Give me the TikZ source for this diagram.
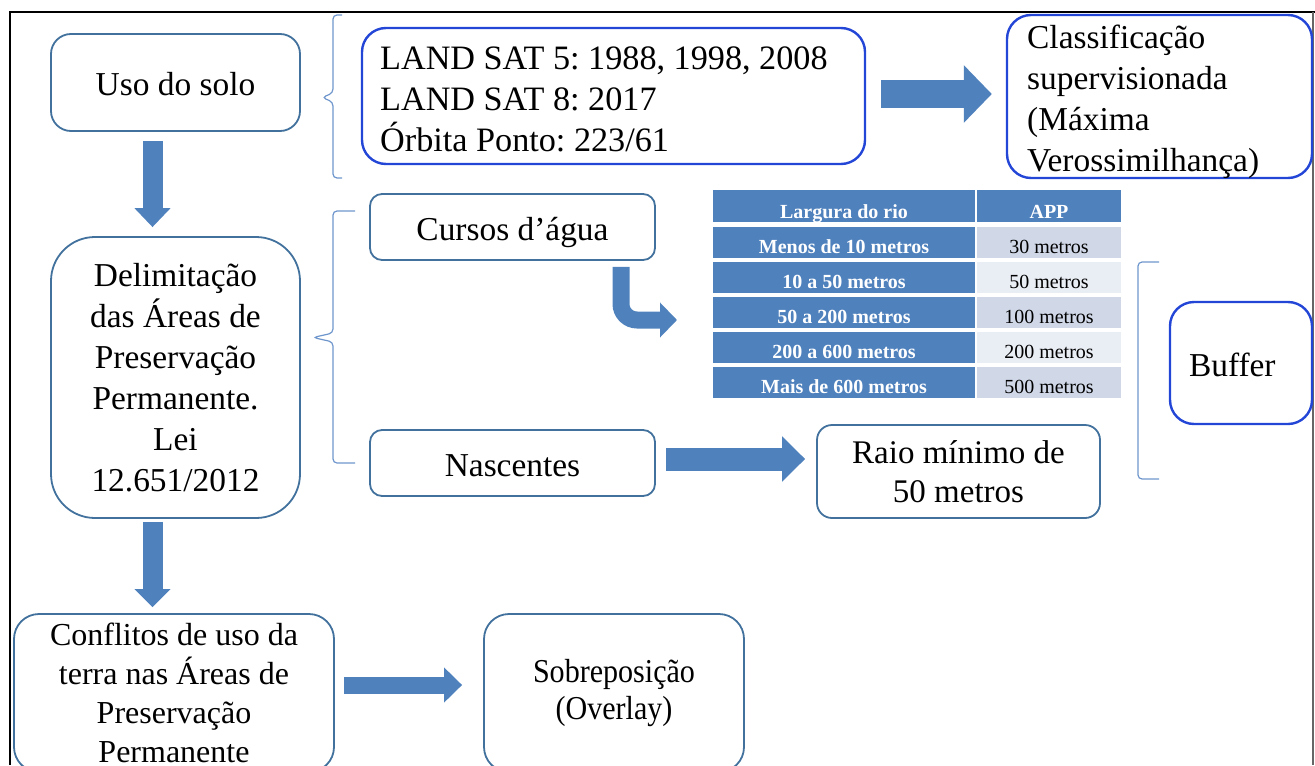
\documentclass[tikz,border=0pt]{standalone}
\usepackage{fontspec}
\setmainfont{Liberation Serif}
\usepackage{graphicx}
\usetikzlibrary{arrows.meta}
\frenchspacing

\definecolor{boxline}{RGB}{65,113,156}
\definecolor{boxblue}{RGB}{35,70,215}
\definecolor{arrowblue}{RGB}{79,129,189}
\definecolor{bracecol}{RGB}{110,150,205}
\definecolor{cellA}{RGB}{208,216,232}
\definecolor{cellB}{RGB}{233,237,244}

\tikzset{
  stepbox/.style={draw=boxline, line width=0.9pt, rounded corners=#1, align=center,
    inner sep=0pt, font=\fontsize{16.7}{20.5}\selectfont},
  stepbox/.default=8pt,
  oneline/.style={text height=13.5pt, text depth=0pt},
  bluebox/.style={draw=boxblue, line width=1.2pt, rounded corners=12pt, align=left,
    inner sep=0pt, font=\fontsize{16.7}{20.5}\selectfont},
  boxtext/.style={align=left, inner sep=0pt, anchor=west, font=\fontsize{16.7}{20.5}\selectfont},
  blockarrow/.style args={#1/#2/#3}{draw=arrowblue, line width=#1, -{Triangle[width=#2,length=#3]}},
  bracket/.style={draw=bracecol, line width=0.6pt, rounded corners=2pt},
  tcell/.style={inner sep=0pt, minimum height=15.5pt, text height=11pt, text depth=0pt,
    font=\fontsize{10}{12}\selectfont},
  thead/.style={tcell, fill=arrowblue, text=white, minimum height=16pt, text height=12pt,
    font=\fontsize{10}{12}\selectfont\bfseries}
}

\begin{document}
\begin{tikzpicture}[x=0.5pt,y=-0.5pt]
  \useasboundingbox (0,0) rectangle (1315,765);
  % frame
  \draw[line width=1.4pt] (10,765) -- (10,12) -- (1315,12);
  \draw[black!60, line width=0.6pt] (1313,12) -- (1313,765);

  % left column
  \node[stepbox=10pt, oneline, minimum width=124.5pt, minimum height=48.5pt] (uso) at (175.5,82.5) {Uso do solo};
  \node[stepbox=22pt, minimum width=124.5pt, minimum height=140.5pt] (delim) at (175.5,377.5)
    {Delimitação\\das Áreas de\\Preservação\\Permanente.\\Lei\\12.651/2012};
  \node[stepbox=12.5pt, minimum width=160pt, minimum height=79pt, font=\fontsize{16}{19.5}\selectfont] (conf) at (174,693)
    {Conflitos de uso da\\terra nas Áreas de\\Preservação\\Permanente};
  \node[stepbox=12.5pt, minimum width=130pt, minimum height=79pt, font=\fontsize{16.7}{18.5}\selectfont] (sobre) at (614,693)
    {\scalebox{0.9}[1]{Sobreposição}\\\scalebox{0.9}[1]{(Overlay)}};

  % imagery
  \node[bluebox, minimum width=251.5pt, minimum height=68pt] (land) at (613.5,96) {};
  \node[boxtext, font=\fontsize{17.1}{20.5}\selectfont] (landtxt) at ([xshift=9.5pt, yshift=-1.75pt]land.west)
    {LAND SAT 5: 1988, 1998, 2008\\LAND SAT 8: 2017\\Órbita Ponto: 223/61};
  \node[bluebox, minimum width=152.5pt, minimum height=81.5pt] (classif) at (1159.5,96.5) {};
  \node[boxtext] (classiftxt) at ([xshift=10.5pt, yshift=-2.75pt]classif.west)
    {Classificação\\supervisionada\\(Máxima\\Verossimilhança)};

  % APP
  \node[stepbox=6pt, oneline, minimum width=142.5pt, minimum height=33pt] (cursos) at (512.5,227) {Cursos d’água};
  \node[stepbox=6pt, oneline, minimum width=142.5pt, minimum height=33pt] (nasc) at (512.5,463) {Nascentes};
  \node[stepbox=7.5pt, minimum width=141.5pt, minimum height=46.5pt, font=\fontsize{16.5}{19.5}\selectfont] (raio) at (958.5,471.5)
    {Raio mínimo de\\50 metros};
  \node[bluebox, oneline, text width=52pt, inner xsep=9.5pt, minimum height=61pt] (buffer) at (1241,363) {Buffer};

  % table
  \node[thead, minimum width=131pt] (th1) at (844,206) {Largura do rio};
  \node[thead, minimum width=72pt] (th2) at (1049,206) {APP};
  \foreach \wid/\app/\shade [count=\i] in {Menos de 10 metros/30 metros/cellA,
      10 a 50 metros/50 metros/cellB, 50 a 200 metros/100 metros/cellA,
      200 a 600 metros/200 metros/cellB, Mais de 600 metros/500 metros/cellA}
  {
    \node[tcell, minimum width=131pt, fill=arrowblue, text=white, font=\fontsize{10}{12}\selectfont\bfseries]
      (rio\i) at (844,{207.5+35*\i}) {\wid};
    \node[tcell, minimum width=72pt, fill=\shade] (app\i) at (1049,{207.5+35*\i}) {\app};
  }

  % braces
  \draw[bracket] (342,15) -- (333,15) -- (333,93) -- (322,97.5) -- (333,102) -- (333,178) -- (342,178);
  \draw[bracket] (355,211) -- (333,211) -- (333,333) -- (313,337.5) -- (333,342) -- (333,463) -- (355,463);
  \draw[bracket] (1159,262) -- (1138,262) -- (1138,479) -- (1159,479);

  % arrows
  \coordinate (ax) at (152.5,0);
  \coordinate (ay) at (0,94);
  \coordinate (ny) at (0,459);
  \coordinate (cy) at (0,685);
  \coordinate (cx) at (621,0);
  \coordinate (ctip) at (677,320);
  \draw[blockarrow=10pt/17.5pt/9.5pt, shorten <=4.5pt, shorten >=4.5pt] (uso.south -| ax) -- (delim.north -| ax);
  \draw[blockarrow=10pt/17.5pt/9pt, shorten <=1.5pt, shorten >=3pt] (delim.south -| ax) -- (conf.north -| ax);
  \draw[blockarrow=14pt/28pt/14pt, shorten <=7.5pt, shorten >=7pt] (land.east |- ay) -- (classif.west |- ay);
  \draw[blockarrow=11.5pt/22pt/11.5pt, shorten <=5pt, shorten >=5.5pt] (nasc.east |- ny) -- (raio.west |- ny);
  \draw[blockarrow=8.5pt/17pt/9pt, shorten <=4.5pt, shorten >=10.5pt] (conf.east |- cy) -- (sobre.west |- cy);
  \draw[blockarrow=8.5pt/17pt/8.5pt, rounded corners=8pt, shorten <=3pt] (cursos.south -| cx) -- (cx |- ctip) -- (ctip);
\end{tikzpicture}
\end{document}
